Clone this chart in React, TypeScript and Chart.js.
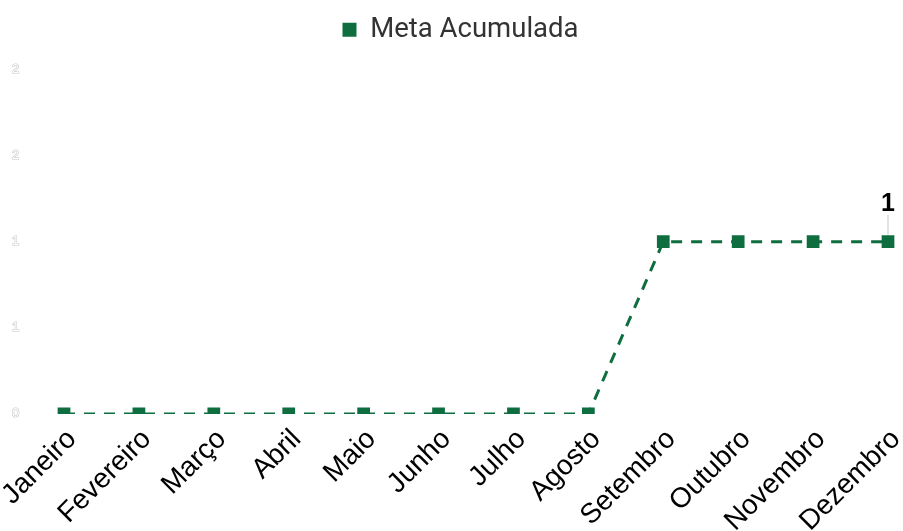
import React, { useEffect, useRef } from "react";
import { Chart, registerables } from "chart.js";

Chart.register(...registerables);

const categories = ["Janeiro","Fevereiro","Março","Abril","Maio","Junho","Julho","Agosto","Setembro","Outubro","Novembro","Dezembro"];
const metaAcumulada = [0,0,0,0,0,0,0,0,1,1,1,1];
const seriesLabel = "Meta Acumulada";
const green = "#0f6e3f";

const legendMargin = {
  id: "legendMargin",
  beforeInit(chart: any) {
    const legend = chart.legend;
    if (!legend) return;
    const orig = legend.fit;
    legend.fit = function () {
      orig.call(this);
      this.height += 16;
    };
  },
  afterLayout(chart: any) {
    const legend = chart.legend;
    if (!legend) return;
    legend.left += 3;
    legend.right += 3;
  },
};

const lastLabelPlugin = {
  id: "lastLabel",
  afterDatasetsDraw(chart: any) {
    const meta = chart.getDatasetMeta(0);
    const i = metaAcumulada.length - 1;
    const pt = meta.data[i];
    if (!pt) return;
    const ctx = chart.ctx;
    ctx.save();
    ctx.strokeStyle = "#c8c8c8";
    ctx.lineWidth = 1;
    ctx.beginPath();
    ctx.moveTo(pt.x, pt.y - 7);
    ctx.lineTo(pt.x, pt.y - 27);
    ctx.stroke();
    ctx.font = "bold 25px 'Liberation Sans', Arial, sans-serif";
    ctx.textAlign = "center";
    ctx.textBaseline = "middle";
    ctx.lineWidth = 4;
    ctx.strokeStyle = "#ffffff";
    ctx.lineJoin = "round";
    const txt = String(metaAcumulada[i]);
    ctx.strokeText(txt, pt.x, pt.y - 38);
    ctx.fillStyle = "#000000";
    ctx.fillText(txt, pt.x, pt.y - 38);
    ctx.restore();
  },
};

export default function App() {
  const ref = useRef<HTMLCanvasElement>(null);
  useEffect(() => {
    if (!ref.current) return;
    const chart = new Chart(ref.current, {
      type: "line",
      data: {
        labels: categories,
        datasets: [
          {
            label: seriesLabel,
            data: metaAcumulada,
            borderColor: green,
            backgroundColor: green,
            borderWidth: 3,
            borderDash: [11, 9],
            pointStyle: "rect",
            pointRadius: 9,
            pointBackgroundColor: green,
            pointBorderColor: green,
            pointBorderWidth: 0,
            tension: 0,
            fill: false,
          },
        ],
      },
      options: {
        animation: false,
        responsive: false,
        maintainAspectRatio: false,
        layout: { padding: { top: 0, right: 0, bottom: 0, left: 12 } },
        plugins: {
          legend: {
            position: "top",
            labels: {
              boxWidth: 14,
              boxHeight: 14,
              color: "#333333",
              font: { family: "Roboto", size: 27.5 },
              padding: 16,
              generateLabels: (chart: any) => {
                const items = Chart.defaults.plugins.legend.labels.generateLabels(chart);
                return items.map((it: any) => ({ ...it, lineDash: [], lineWidth: 0, strokeStyle: green }));
              },
            },
          },
          tooltip: { enabled: false },
        },
        scales: {
          x: {
            offset: false,
            grid: { display: false },
            border: { display: false },
            afterFit: (scale: any) => {
              scale.paddingLeft = 64;
              scale.paddingRight = 15;
            },
            ticks: {
              color: "#000000",
              font: { family: "'Liberation Sans', Arial, sans-serif", size: 28 },
              maxRotation: 45,
              minRotation: 45,
              autoSkip: false,
              padding: 1,
              labelOffset: 8,
            },
          },
          y: {
            min: 0,
            max: 2,
            grid: { display: false },
            border: { display: false },
            afterFit: (scale: any) => {
              scale.width = 52;
            },
            ticks: {
              stepSize: 0.5,
              color: "#ffffff",
              textStrokeColor: "#c8c8c8",
              textStrokeWidth: 1.2,
              crossAlign: "far",
              font: { family: "'Liberation Sans', Arial, sans-serif", size: 13 },
              padding: 4,
              callback: (v: any) => Number(v).toFixed(0),
            },
          },
        },
      },
      plugins: [legendMargin, lastLabelPlugin],
    });
    return () => chart.destroy();
  }, []);
  return (
    <div style={{ position: "absolute", left: 0, top: 0, width: 903, height: 531, overflow: "hidden", background: "#fff" }}>
      <canvas ref={ref} width={903} height={539} style={{ width: 903, height: 539, display: "block" }} />
    </div>
  );
}
